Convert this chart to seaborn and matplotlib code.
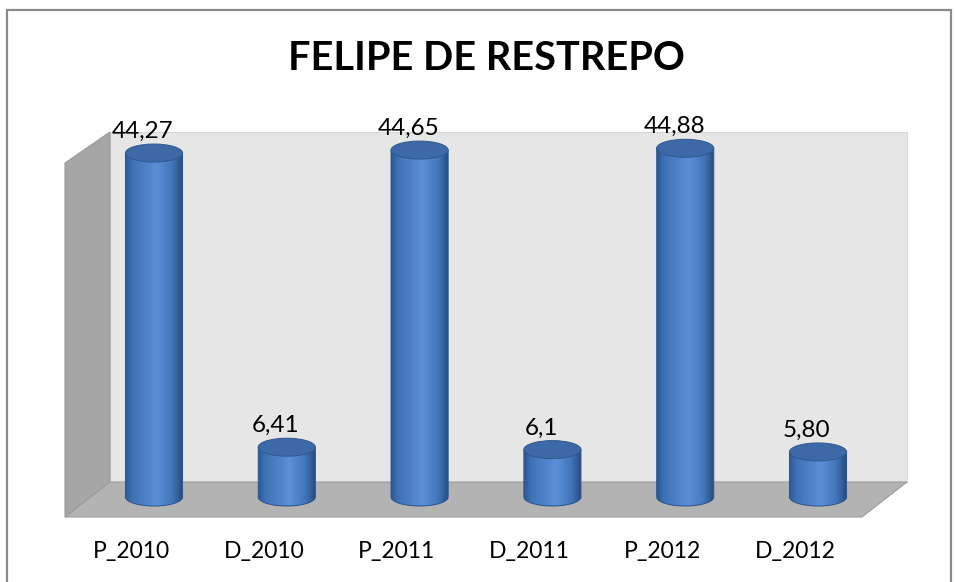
import numpy as np
import matplotlib
matplotlib.use("Agg")
import matplotlib.pyplot as plt
import matplotlib.transforms as mtransforms
import seaborn as sns
import pandas as pd
from matplotlib.patches import Polygon, Ellipse, PathPatch
from matplotlib.path import Path
from matplotlib.colors import LinearSegmentedColormap

# ---- data ----
categories = ["P_2010", "D_2010", "P_2011", "D_2011", "P_2012", "D_2012"]
values = [44.27, 6.41, 44.65, 6.10, 44.88, 5.80]
value_labels = ["44,27", "6,41", "44,65", "6,1", "44,88", "5,80"]
title = "FELIPE DE RESTREPO"

sns.set_theme(style="white")
plt.rcParams['font.family'] = ['Lato', 'DejaVu Sans']

W, H = 955, 582
fig = plt.figure(figsize=(W / 100, H / 100), dpi=100)

# ---- background decoration (pixel coords) ----
bg = fig.add_axes([0, 0, 1, 1])
bg.set_xlim(0, W)
bg.set_ylim(H, 0)
bg.axis('off')
bg.plot([7, 7, 951, 951], [H + 5, 10, 10, H + 5], color='#8a8a8a', lw=1.6,
        solid_joinstyle='miter')
# back wall
bg.add_patch(Polygon([(110, 132), (907, 132), (907, 482), (110, 482)],
                     closed=True, facecolor='#e6e6e6', edgecolor='#d6d6d6', lw=0.8))
# left wall
bg.add_patch(Polygon([(65, 163), (110, 132), (110, 482), (65, 517)],
                     closed=True, facecolor='#a6a6a6', edgecolor='#9a9a9a', lw=0.8))
# floor
bg.add_patch(Polygon([(110, 482), (907, 482), (862, 517), (65, 517)],
                     closed=True, facecolor='#b3b3b3', edgecolor='#9d9d9d', lw=0.8))

fig.text(486.5 / W, (H - 70) / H, title, ha='center', va='baseline',
         fontsize=28.5, fontweight='bold', color='black')

# ---- main axes ----
ppu = 7.77          # pixels per value unit
base_px = 497       # pixel row of value 0
center0, step = 154, 132.8
ymin, ymax = -4, 55
ax = fig.add_axes([(center0 - 0.5 * step) / W,
                   (H - base_px - (-ymin) * ppu) / H,
                   6 * step / W,
                   (ymax - ymin) * ppu / H])
ax.patch.set_alpha(0)

df = pd.DataFrame({'cat': categories, 'val': values})
sns.barplot(data=df, x='cat', y='val', width=0.43, color='#4a7fc4', ax=ax)

cmap = LinearSegmentedColormap.from_list(
    'cyl', [(0, '#2a5694'), (0.12, '#3f71b5'), (0.55, '#5b90d8'),
            (0.82, '#4274b8'), (1, '#24497f')])
grad = np.linspace(0, 1, 256).reshape(1, -1)

eh = 18 / ppu
for patch, lab in zip(list(ax.patches), value_labels):
    x0 = patch.get_x()
    w = patch.get_width()
    h = patch.get_height()
    xc = x0 + w / 2
    patch.set_visible(False)
    theta = np.linspace(np.pi, 2 * np.pi, 80)
    arc = np.column_stack([xc + w / 2 * np.cos(theta), eh / 2 * np.sin(theta)])
    verts = [(x0, h)] + [tuple(p) for p in arc] + [(x0 + w, h), (x0, h)]
    body = PathPatch(Path(verts, closed=True), facecolor='none',
                     edgecolor='#2b548c', lw=0.7, zorder=3)
    ax.add_patch(body)
    img = ax.imshow(grad, extent=[x0, x0 + w, -eh / 2, h], cmap=cmap,
                    aspect='auto', interpolation='bicubic', zorder=2)
    img.set_clip_path(body)
    ax.add_patch(Ellipse((xc, h), w, eh, facecolor='#3d69a6',
                         edgecolor='#2e5890', lw=0.7, zorder=4))
    ax.annotate(lab, (xc, h + eh / 2), xytext=(-8, 4.3), textcoords='offset points',
                ha='center', va='baseline', fontsize=17.5, color='black')

ax.set_xlim(-0.5, 5.5)
ax.set_ylim(ymin, ymax)
ax.set_yticks([])
ax.set_xlabel('')
ax.set_ylabel('')
for s in ax.spines.values():
    s.set_visible(False)
ax.tick_params(axis='x', length=0, pad=9.5, labelsize=16.5, colors='black')
shift = mtransforms.ScaledTranslation(-0.23, 0, fig.dpi_scale_trans)
for t in ax.get_xticklabels():
    t.set_transform(t.get_transform() + shift)

fig.savefig('out.png', dpi=100)
